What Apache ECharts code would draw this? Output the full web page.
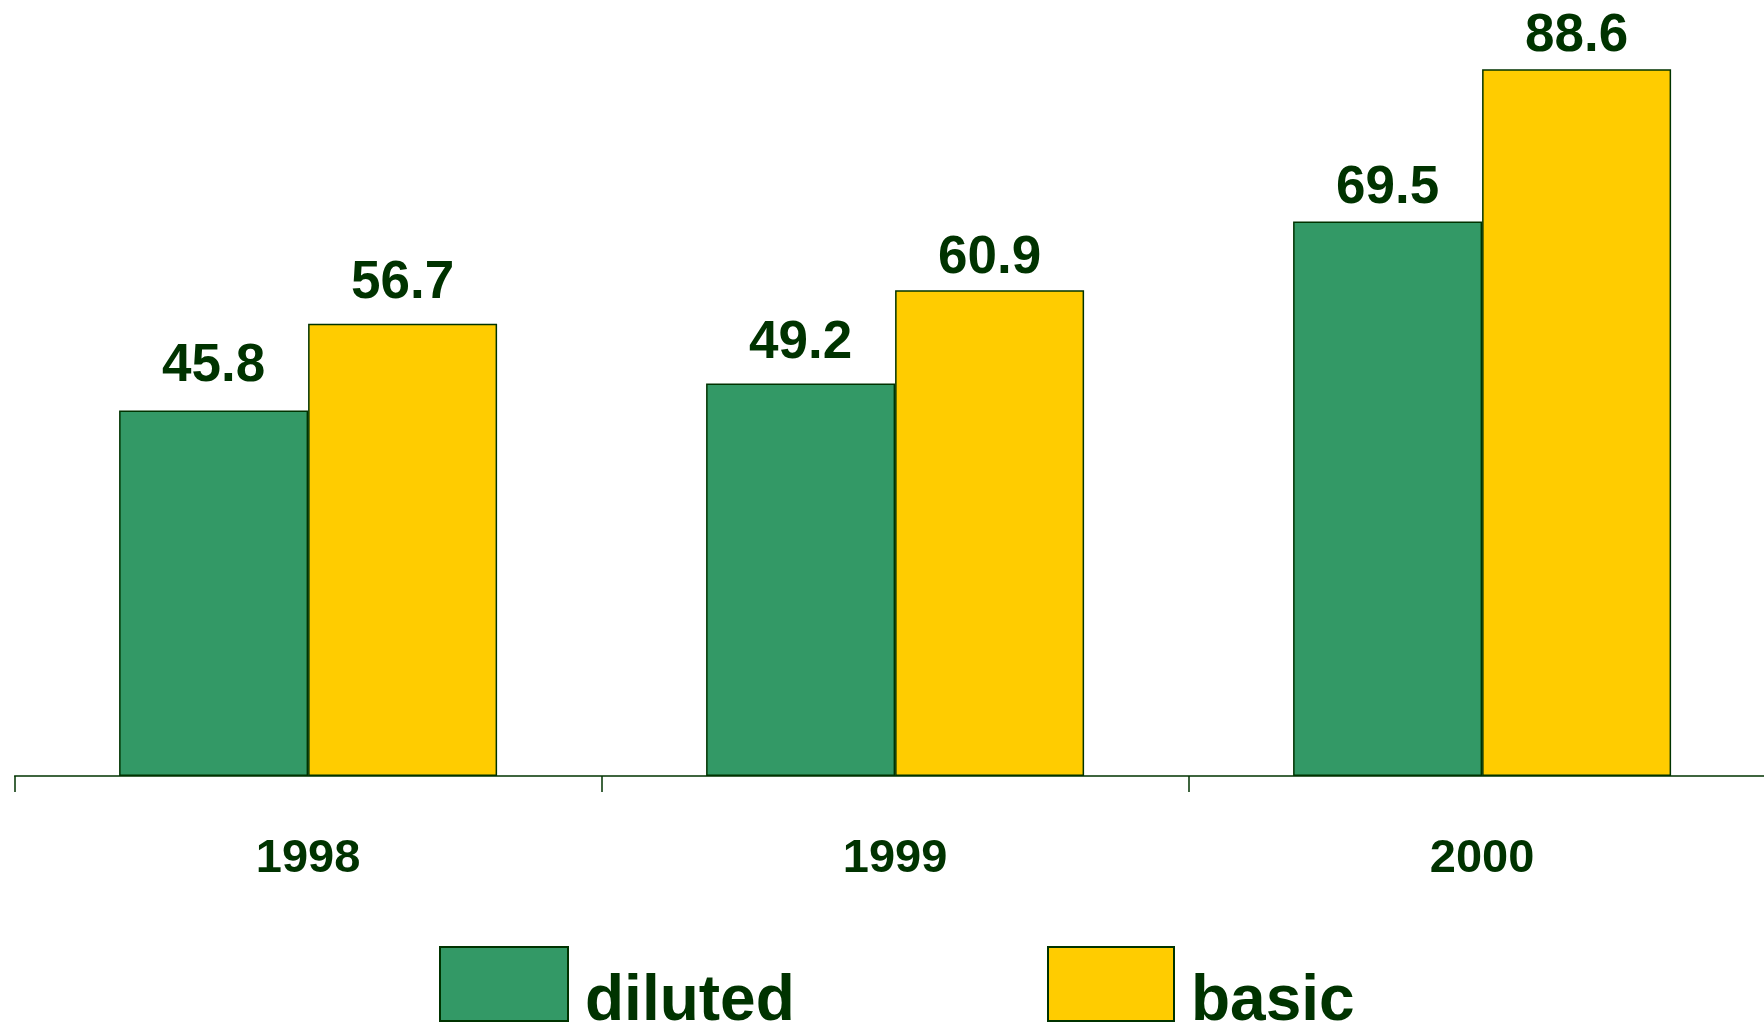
<!DOCTYPE html>
<html>
<head>
<meta charset="utf-8">
<script src="https://cdn.jsdelivr.net/npm/echarts@6/dist/echarts.min.js"></script>
<style>html,body{margin:0;padding:0;background:#fff;}#c{width:1764px;height:1025px;}</style>
</head>
<body>
<div id="c"></div>
<script>
const categories = ['1998', '1999', '2000'];
const diluted = [45.8, 49.2, 69.5];
const basic = [56.7, 60.9, 88.6];
const seriesNames = ['diluted', 'basic'];
// gap (px) between each value label and the top of its bar
const dilutedLabelGap = [18, 14, 7];
const basicLabelGap = [14, 5, 6];

const DARK = '#003300';
const chart = echarts.init(document.getElementById('c'));
const valueLabel = {
  show: true, position: 'top',
  color: DARK, fontFamily: 'Liberation Sans', fontWeight: 'bold', fontSize: 53,
  formatter: p => p.value.toFixed(1)
};
const withGap = (vals, gaps) => vals.map((v, i) => ({ value: v, label: { distance: gaps[i] } }));
const legendText = {
  color: DARK, fontFamily: 'Liberation Sans', fontWeight: 'bold', fontSize: 64,
  rich: {
    t: { color: DARK, fontFamily: 'Liberation Sans', fontWeight: 'bold', fontSize: 64, padding: [36, 0, 0, 12] }
  }
};
const legendFmt = name => '{t|' + name + '}';
chart.setOption({
  animation: false,
  backgroundColor: '#ffffff',
  grid: { left: 14.6, width: 1761, top: 58, bottom: 249, containLabel: false, outerBoundsMode: 'none' },
  legend: [
    { data: [seriesNames[0]], left: 439, top: 946, padding: 0, itemWidth: 128, itemHeight: 74, textStyle: legendText, formatter: legendFmt, icon: 'rect' },
    { data: [seriesNames[1]], left: 1047, top: 946, padding: 0, itemWidth: 126, itemHeight: 74, textStyle: legendText, formatter: legendFmt, icon: 'rect' }
  ],
  xAxis: {
    type: 'category', data: categories,
    axisLine: { lineStyle: { color: DARK, width: 1.5 } },
    axisTick: { show: true, length: 16, lineStyle: { color: DARK, width: 1.5 } },
    axisLabel: { margin: 60, color: DARK, fontWeight: 'bold', fontFamily: 'Liberation Sans', fontSize: 47 }
  },
  yAxis: { type: 'value', min: 0, max: 90, show: false, splitLine: { show: false } },
  series: [
    { name: seriesNames[0], type: 'bar', data: withGap(diluted, dilutedLabelGap), barWidth: 189, barGap: '0%',
      itemStyle: { color: '#339966', borderColor: DARK, borderWidth: 1.5 }, label: valueLabel },
    { name: seriesNames[1], type: 'bar', data: withGap(basic, basicLabelGap), barWidth: 189, barGap: '0%',
      itemStyle: { color: '#FFCC00', borderColor: DARK, borderWidth: 1.5 }, label: valueLabel }
  ]
});
</script>
</body>
</html>
